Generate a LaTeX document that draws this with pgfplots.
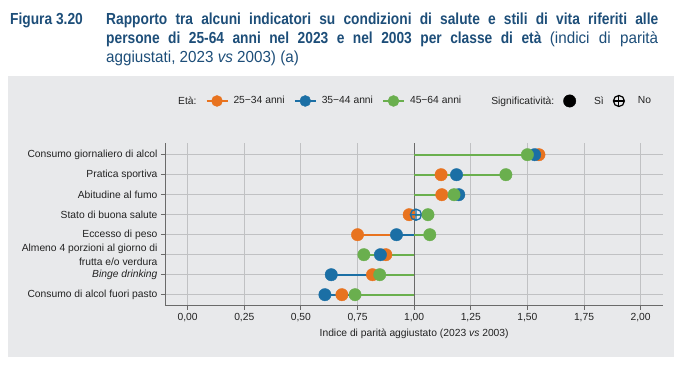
\documentclass[border=0pt]{standalone}
\usepackage{fontspec}
\setmainfont{Liberation Sans}
\newfontfamily\titleB{Liberation Sans}[FakeStretch=0.86]
\newfontfamily\titleR{Liberation Sans}[FakeStretch=0.95]
\usepackage{pgfplots}
\pgfplotsset{compat=1.18}
\definecolor{bg}{HTML}{E8E9EB}
\definecolor{gridc}{HTML}{C0C1C3}
\definecolor{axisc}{HTML}{6A6A6A}
\definecolor{labelc}{HTML}{222222}
\definecolor{tblue}{HTML}{1D4E79}
\definecolor{c1}{HTML}{E8731F}
\definecolor{c2}{HTML}{1B6FA5}
\definecolor{c3}{HTML}{6AAF4E}
\begin{document}
\begin{tikzpicture}[x=1pt,y=1pt]
\path[fill=white] (0,0) rectangle (682,365);
\fill[bg] (8,8) rectangle (674,289.3);
\begin{scope}[every node/.style={inner sep=0pt, anchor=base west, text=tblue}]
\node[font=\titleB\bfseries\fontsize{16}{19}\selectfont] at (10,340) {Figura 3.20};
\node[font=\titleB\bfseries\fontsize{16}{19}\selectfont] at (106,340) {\makebox[552pt][s]{Rapporto tra alcuni indicatori su condizioni di salute e stili di vita riferiti alle}};
\node[font=\titleB\bfseries\fontsize{16}{19}\selectfont] at (106,321) {\makebox[552pt][s]{persone di 25-64 anni nel 2023 e nel 2003 per classe di età {\titleR\mdseries (indici di parità}}};
\node[font=\titleR\fontsize{16}{19}\selectfont] at (106,302) {aggiustati, 2023 \textit{vs} 2003) (a)};
\end{scope}
\begin{axis}[
  at={(165pt,59.3pt)}, anchor=south west, scale only axis,
  width=498.3pt, height=163pt,
  xmin=-0.1, xmax=2.1, ymin=0.45, ymax=8.6,
  axis lines*=left,
  axis line style={color=axisc, line width=1pt},
  xtick={0,0.25,0.5,0.75,1,1.25,1.5,1.75,2},
  ytick={1,2,3,4,5,6,7,8},
  yticklabels={Consumo di alcol fuori pasto,\textit{Binge drinking},{Almeno 4 porzioni al giorno di\\frutta e/o verdura},Eccesso di peso,Stato di buona salute,Abitudine al fumo,Pratica sportiva,Consumo giornaliero di alcol},
  yticklabel style={align=right, font=\fontsize{10.3}{13.4}\selectfont, text=labelc},
  xticklabel style={font=\fontsize{10.3}{12}\selectfont, text=labelc, /pgf/number format/.cd, fixed, fixed zerofill, precision=2, use comma, assume math mode=true},
  tick align=outside, major tick length=4pt,
  tick style={color=axisc, line width=0.9pt},
  grid=major, grid style={color=gridc, line width=0.9pt},
  xlabel={Indice di parità aggiustato (2023 \textit{vs} 2003)},
  xlabel style={font=\fontsize{10.3}{12}\selectfont, text=labelc},
  unbounded coords=jump,
  clip=false,
  legend columns=-1,
  legend style={draw=none, fill=none, at={(rel axis cs:0.010,1.256)}, anchor=west,
    font=\fontsize{10.3}{12}\selectfont, text=labelc,
    nodes={inner xsep=0pt},
    /tikz/every odd column/.append style={column sep=5pt},
    /tikz/every even column/.append style={column sep=9pt}},
]
\addlegendimage{empty legend}
\addlegendentry{Età:}
\addlegendimage{legend image code/.code={\draw[c1, line width=2pt] (0pt,0pt) -- (21pt,0pt); \fill[c1] (10.5pt,0pt) circle (5.5pt);}}
\addlegendentry{25−34 anni}
\addlegendimage{legend image code/.code={\draw[c2, line width=2pt] (0pt,0pt) -- (21pt,0pt); \fill[c2] (10.5pt,0pt) circle (5.5pt);}}
\addlegendentry{35−44 anni}
\addlegendimage{legend image code/.code={\draw[c3, line width=2pt] (0pt,0pt) -- (21pt,0pt); \fill[c3] (10.5pt,0pt) circle (5.5pt);}}
\addlegendentry{45−64 anni}
\addlegendimage{empty legend}
\addlegendentry{\hspace{16pt}Significatività:}
\addlegendimage{legend image code/.code={\fill[black] (6pt,0pt) circle (6.2pt);}}
\addlegendentry{\hspace{13pt}Sì}
\addlegendimage{legend image code/.code={\draw[black, line width=1.2pt] (6pt,0pt) circle (5.5pt); \draw[black, line width=1.2pt] (0.5pt,0pt) -- (11.5pt,0pt) (6pt,-5.5pt) -- (6pt,5.5pt);}}
\addlegendentry{\hspace{8pt}No}

% reference line at parity = 1
\addplot[forget plot, color=axisc, line width=1.1pt] coordinates {(1,0.45) (1,8.6)};

% segments from 1 to each value
\addplot[forget plot, no marks, c1, line width=2pt] coordinates {
(1,8) (1.551,8) (nan,nan) (1,7) (1.119,7) (nan,nan) (1,6) (1.122,6) (nan,nan)
(1,5) (0.978,5) (nan,nan) (1,4) (0.750,4) (nan,nan) (1,3) (0.875,3) (nan,nan)
(1,2) (0.816,2) (nan,nan) (1,1) (0.681,1)};
\addplot[forget plot, no marks, c2, line width=2pt] coordinates {
(1,8) (1.532,8) (nan,nan) (1,7) (1.187,7) (nan,nan) (1,6) (1.197,6) (nan,nan)
(1,5) (1.008,5) (nan,nan) (1,4) (0.922,4) (nan,nan) (1,3) (0.851,3) (nan,nan)
(1,2) (0.634,2) (nan,nan) (1,1) (0.606,1)};
\addplot[forget plot, no marks, c3, line width=2pt] coordinates {
(1,8) (1.500,8) (nan,nan) (1,7) (1.405,7) (nan,nan) (1,6) (1.176,6) (nan,nan)
(1,5) (1.061,5) (nan,nan) (1,4) (1.069,4) (nan,nan) (1,3) (0.778,3) (nan,nan)
(1,2) (0.848,2) (nan,nan) (1,1) (0.739,1)};

% markers
\addplot[forget plot, only marks, mark=*, mark size=6.2pt, mark options={draw=c1, fill=c1}] coordinates {
(1.551,8) (1.119,7) (1.122,6) (0.978,5) (0.750,4) (0.875,3) (0.816,2) (0.681,1)};
\addplot[forget plot, only marks, mark=*, mark size=6.2pt, mark options={draw=c2, fill=c2}] coordinates {
(1.532,8) (1.187,7) (1.197,6) (0.922,4) (0.851,3) (0.634,2) (0.606,1)};
\addplot[forget plot, only marks, mark=oplus, mark size=5.6pt, mark options={draw=c2, fill=bg, line width=1.3pt}] coordinates {
(1.008,5)};
\addplot[forget plot, only marks, mark=*, mark size=6.2pt, mark options={draw=c3, fill=c3}] coordinates {
(1.500,8) (1.405,7) (1.176,6) (1.061,5) (1.069,4) (0.778,3) (0.848,2) (0.739,1)};
\end{axis}
\end{tikzpicture}
\end{document}
